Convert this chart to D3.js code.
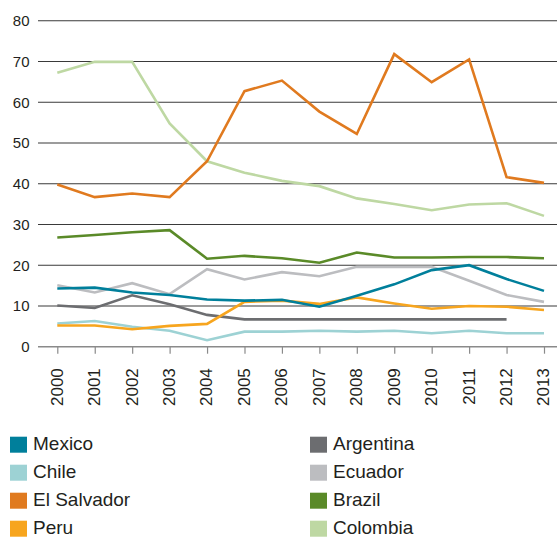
<!DOCTYPE html>
<html>
<head>
<meta charset="utf-8">
<script src="https://cdn.jsdelivr.net/npm/d3@7"></script>
<style>
  html, body { margin: 0; padding: 0; background: #fff; }
  svg { display: block; font-family: "Liberation Sans", Arial, sans-serif; }
</style>
</head>
<body>
<svg id="chart" width="557" height="538"></svg>
<script>
const years = [2000,2001,2002,2003,2004,2005,2006,2007,2008,2009,2010,2011,2012,2013];
const yTicks = [0,10,20,30,40,50,60,70,80];

const mexico     = [14.3,14.5,13.3,12.7,11.6,11.3,11.5,9.8,12.5,15.3,18.8,20.0,16.6,13.7];
const chile      = [5.7,6.3,4.9,3.9,1.6,3.7,3.7,3.9,3.7,3.9,3.3,3.9,3.3,3.3];
const elSalvador = [39.8,36.7,37.6,36.7,45.5,62.7,65.3,57.7,52.2,71.8,64.9,70.5,41.6,40.2];
const peru       = [5.2,5.2,4.3,5.1,5.6,11.0,11.3,10.5,12.1,10.6,9.3,10.0,9.8,9.0];
const argentina  = [10.1,9.5,12.6,10.4,7.8,6.7,6.7,6.7,6.7,6.7,6.7,6.7,6.7,null];
const ecuador    = [15.1,13.3,15.6,12.9,19.0,16.5,18.3,17.3,19.6,19.6,19.6,16.2,12.7,11.0];
const brazil     = [26.8,27.4,28.1,28.6,21.6,22.3,21.7,20.6,23.1,21.9,21.9,22.0,22.0,21.7];
const colombia   = [67.2,69.9,69.9,54.8,45.5,42.7,40.7,39.4,36.4,35.0,33.5,34.9,35.2,32.1];

const seriesNames  = ["Mexico","Chile","El Salvador","Peru","Argentina","Ecuador","Brazil","Colombia"];
const seriesColors = ["#007f9b","#9dd2d4","#e07a1f","#f7a51e","#6c6d70","#bcbdc0","#5a8a28","#bed8a3"];
const seriesValues = [mexico, chile, elSalvador, peru, argentina, ecuador, brazil, colombia];

// drawing order (back to front)
const drawOrder = ["Colombia","El Salvador","Brazil","Ecuador","Argentina","Chile","Peru","Mexico"];

const svg = d3.select("#chart");
const x = d3.scalePoint().domain(years).range([57.3, 544]);
const y = d3.scaleLinear().domain([0, 80]).range([346.7, 20.7]);

// gridlines
const grid = svg.append("g");
grid.selectAll("line").data(yTicks).join("line")
  .attr("x1", 38).attr("x2", 557)
  .attr("y1", d => y(d)).attr("y2", d => y(d))
  .attr("stroke", d => d === 0 ? "#8a8a8a" : "#3a3a3a")
  .attr("stroke-width", d => d === 0 ? 1.6 : 1.1);

// y labels
svg.append("g").selectAll("text").data(yTicks).join("text")
  .attr("x", 29.5).attr("y", d => y(d)).attr("dy", "0.36em")
  .attr("text-anchor", "end")
  .attr("font-size", 15).attr("fill", "#231f20")
  .text(d => d);

// x axis ticks and labels
const xAxis = d3.axisBottom(x).tickSize(7).tickPadding(0).tickFormat(d => d);
const gx = svg.append("g").attr("transform", `translate(0,${y(0)})`).call(xAxis);
gx.select(".domain").remove();
gx.selectAll(".tick line").attr("stroke", "#8a8a8a").attr("stroke-width", 1.2);
gx.selectAll(".tick text")
  .attr("transform", "rotate(-90)")
  .attr("x", -21.5).attr("y", -1.2).attr("dy", "0.36em")
  .attr("text-anchor", "end")
  .attr("font-size", 17).attr("fill", "#231f20")
  .attr("font-family", "Liberation Sans, Arial, sans-serif");

// lines
const line = d3.line()
  .defined(d => d.v !== null)
  .x(d => x(d.year))
  .y(d => y(d.v));

drawOrder.forEach(name => {
  const i = seriesNames.indexOf(name);
  const data = years.map((yr, j) => ({year: yr, v: seriesValues[i][j]}));
  svg.append("path").datum(data)
    .attr("d", line)
    .attr("fill", "none")
    .attr("stroke", seriesColors[i])
    .attr("stroke-width", 2.6)
    .attr("stroke-linejoin", "miter");
});

// legend
const legend = svg.append("g");
seriesNames.forEach((name, i) => {
  const col = i < 4 ? 0 : 1;
  const row = i % 4;
  const gx0 = col === 0 ? 10 : 310;
  const base = 450 + row * 28;
  legend.append("rect")
    .attr("x", gx0).attr("y", base - 13.3)
    .attr("width", 17).attr("height", 16)
    .attr("fill", seriesColors[i]);
  legend.append("text")
    .attr("x", gx0 + 23).attr("y", base)
    .attr("font-size", 19).attr("fill", "#231f20")
    .text(name);
});
</script>
</body>
</html>
